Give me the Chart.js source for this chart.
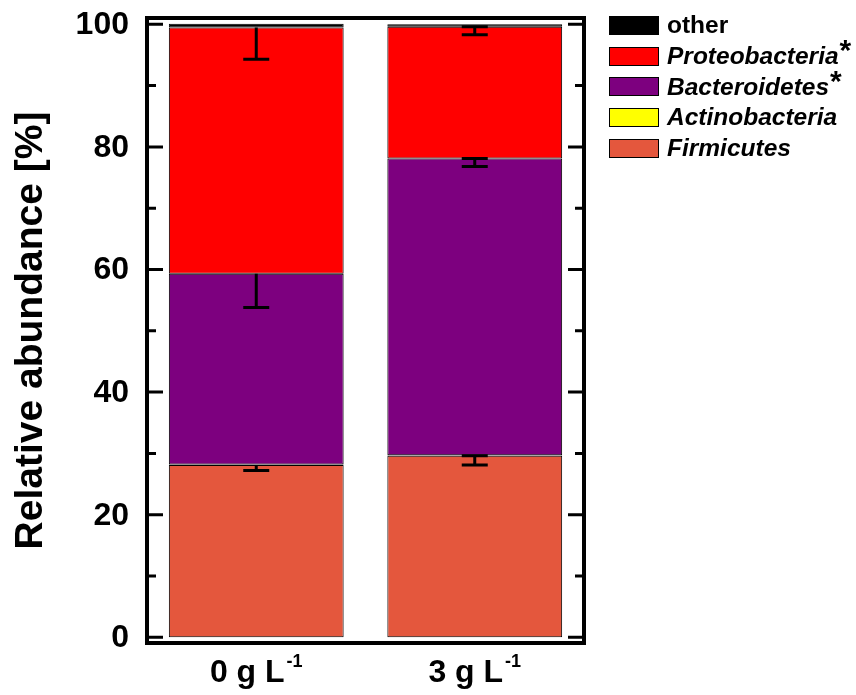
<!DOCTYPE html>
<html>
<head>
<meta charset="utf-8">
<script src="https://cdn.jsdelivr.net/npm/chart.js@4"></script>
<style>
    html, body { margin: 0; padding: 0; background: #fff; }
    #wrap { position: relative; width: 856px; height: 695px; }
    #legend {
        position: absolute; left: 609px; top: 10px;
        font-family: "Liberation Sans", Arial, sans-serif; font-weight: bold; font-size: 24.5px; color: #000;
    }
    .row { display: flex; align-items: center; height: 30.7px; white-space: nowrap; }
    .box { width: 50px; height: 19px; box-sizing: border-box; border: 1px solid #000; margin-right: 8px; }
    .star { font-size: 30px; font-style: normal; position: relative; top: -6px; margin-left: 1px; }
</style>
</head>
<body>
<div id="wrap">
    <canvas id="chart" width="856" height="695"></canvas>
    <div id="legend"></div>
</div>
<script>
// data (stacked bottom -> top)
const categories = ['0 g L', '3 g L'];
const unitExp = '-1';

const firmicutes     = [28.1, 29.6];
const actinobacteria = [0.1, 0.1];
const bacteroidetes  = [31.1, 48.4];
const proteobacteria = [40.2, 21.5];
const other          = [0.6, 0.4];

// error (minus direction, from segment top)
const firmicutesErr     = [0.9, 1.5];
const bacteroidetesErr  = [5.5, 1.3];
const proteobacteriaErr = [5.2, 1.3];
const capOnTop = [false, true];

const yTicks = [0, 20, 40, 60, 80, 100];
const yMinor = [10, 30, 50, 70, 90];

const FONT = '"Liberation Sans", Arial, sans-serif';

// error bars, frame, ticks and labels drawn from the chart's own scales
const framePlugin = {
    id: 'frame',
    afterDatasetsDraw(chart) {
        const { ctx, chartArea: a, scales: { x, y } } = chart;
        const sets = chart.data.datasets;
        ctx.save();

        // error bars
        ctx.strokeStyle = '#000';
        ctx.lineWidth = 3;
        sets.forEach((ds, i) => {
            if (!ds.err) return;
            ds.data.forEach((v, j) => {
                let cum = 0;
                for (let k = 0; k <= i; k++) cum += sets[k].data[j];
                const cx = x.getPixelForValue(j);
                const y0 = y.getPixelForValue(cum);
                const y1 = y.getPixelForValue(cum - ds.err[j]);
                ctx.beginPath();
                ctx.moveTo(cx, y0); ctx.lineTo(cx, y1);
                ctx.moveTo(cx - 13, y1); ctx.lineTo(cx + 13, y1);
                if (capOnTop[j]) { ctx.moveTo(cx - 13, y0); ctx.lineTo(cx + 13, y0); }
                ctx.stroke();
            });
        });

        // frame
        ctx.lineWidth = 4;
        ctx.strokeRect(a.left, a.top, a.right - a.left, a.bottom - a.top);

        // ticks, inward on both sides
        ctx.lineWidth = 3;
        ctx.beginPath();
        yTicks.forEach(v => {
            const py = y.getPixelForValue(v);
            ctx.moveTo(a.left, py); ctx.lineTo(a.left + 16, py);
            ctx.moveTo(a.right, py); ctx.lineTo(a.right - 16, py);
        });
        yMinor.forEach(v => {
            const py = y.getPixelForValue(v);
            ctx.moveTo(a.left, py); ctx.lineTo(a.left + 9, py);
            ctx.moveTo(a.right, py); ctx.lineTo(a.right - 9, py);
        });
        ctx.stroke();

        // y tick labels
        ctx.fillStyle = '#000';
        ctx.font = 'bold 32px ' + FONT;
        ctx.textAlign = 'right';
        ctx.textBaseline = 'middle';
        yTicks.forEach(v => ctx.fillText(String(v), a.left - 18, y.getPixelForValue(v) + 1));

        // x labels with superscript
        ctx.textAlign = 'left';
        ctx.textBaseline = 'alphabetic';
        categories.forEach((c, j) => {
            const cx = x.getPixelForValue(j);
            ctx.font = 'bold 32px ' + FONT;
            const w1 = ctx.measureText(c).width;
            ctx.font = 'bold 18px ' + FONT;
            const w2 = ctx.measureText(unitExp).width;
            const x0 = cx - (w1 + w2 + 2) / 2;
            ctx.font = 'bold 32px ' + FONT;
            ctx.fillText(c, x0, 682);
            ctx.font = 'bold 18px ' + FONT;
            ctx.fillText(unitExp, x0 + w1 + 2, 667);
        });

        // y title
        ctx.translate(31, (a.top + a.bottom) / 2);
        ctx.rotate(-Math.PI / 2);
        ctx.textAlign = 'center';
        ctx.textBaseline = 'middle';
        ctx.font = 'bold 39px ' + FONT;
        ctx.fillText('Relative abundance [%]', 0, 0);
        ctx.restore();
    }
};

const chart = new Chart(document.getElementById('chart'), {
    type: 'bar',
    data: {
        labels: categories,
        datasets: [
            { label: 'Firmicutes', data: firmicutes, err: firmicutesErr, backgroundColor: '#E4573D', italic: true },
            { label: 'Actinobacteria', data: actinobacteria, backgroundColor: '#FFFF00', italic: true },
            { label: 'Bacteroidetes', data: bacteroidetes, err: bacteroidetesErr, backgroundColor: '#7D007F', italic: true, star: true },
            { label: 'Proteobacteria', data: proteobacteria, err: proteobacteriaErr, backgroundColor: '#FF0000', italic: true, star: true },
            { label: 'other', data: other, backgroundColor: '#000000' }
        ]
    },
    options: {
        responsive: false,
        animation: false,
        devicePixelRatio: 1,
        layout: { padding: { left: 147, right: 272, top: 18, bottom: 52 } },
        datasets: {
            bar: {
                borderColor: '#000',
                borderWidth: 1,
                borderSkipped: false,
                barPercentage: 0.8,
                categoryPercentage: 1
            }
        },
        scales: {
            x: { stacked: true, display: false },
            y: { stacked: true, display: false, min: -0.93, max: 101.03 }
        },
        plugins: {
            legend: { display: false },
            tooltip: { enabled: false }
        }
    },
    plugins: [framePlugin]
});

// legend, top entry = top of stack
const legendEl = document.getElementById('legend');
chart.data.datasets.slice().reverse().forEach(ds => {
    const row = document.createElement('div');
    row.className = 'row';
    const box = document.createElement('span');
    box.className = 'box';
    box.style.background = ds.backgroundColor;
    const txt = document.createElement('span');
    txt.textContent = ds.label;
    if (ds.italic) txt.style.fontStyle = 'italic';
    row.appendChild(box);
    row.appendChild(txt);
    if (ds.star) {
        const s = document.createElement('span');
        s.className = 'star';
        s.textContent = '*';
        row.appendChild(s);
    }
    legendEl.appendChild(row);
});
</script>
</body>
</html>
